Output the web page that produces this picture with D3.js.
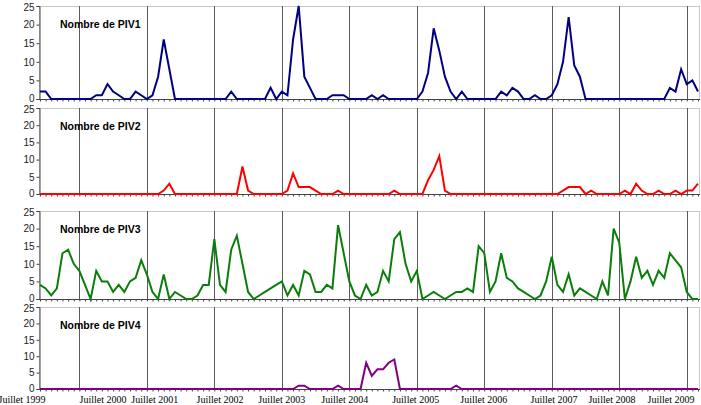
<!DOCTYPE html>
<html><head><meta charset="utf-8">
<script src="https://cdn.jsdelivr.net/npm/d3@7"></script>
<style>body{margin:0;background:#fff}svg{display:block}</style>
</head><body>
<svg id="c" width="701" height="405"></svg>
<script>
const piv1 = [2,2,0,0,0,0,0,0,0,0, 1,1,4,2,1,0,0,2,1,0, 1,6,16,8,0,0,0,0,0,0, 0,0,0,0,2,0,0,0,0,0,
  0,3,0,2,1,16,25,6,3,0, 0,0,1,1,1,0,0,0,0,1, 0,1,0,0,0,0,0,0,2,7, 19,13,6,2,0,2,0,0,0,0,
  0,0,2,1,3,2,0,0,1,0, 0,1,4,10,22,9,6,0,0,0, 0,0,0,0,0,0,0,0,0,0, 0,0,3,2,8,4,5,2];
const piv2 = [0,0,0,0,0,0,0,0,0,0, 0,0,0,0,0,0,0,0,0,0, 0,0,1,3,0,0,0,0,0,0, 0,0,0,0,0,0,8,1,0,0,
  0,0,0,0,1,6,2,2,2,1, 0,0,0,1,0,0,0,0,0,0, 0,0,0,1,0,0,0,0,0,4, 7,11,1,0,0,0,0,0,0,0,
  0,0,0,0,0,0,0,0,0,0, 0,0,0,1,2,2,2,0,1,0, 0,0,0,0,1,0,3,1,0,0, 1,0,0,1,0,1,1,3];
const piv3 = [4,3,1,3,13,14,10,8,4,0, 8,5,5,2,4,2,5,6,11,7, 2,0,7,0,2,1,0,0,1,4, 4,17,4,2,14,18,10,2,0,1,
  2,3,4,5,1,4,1,8,7,2, 2,4,3,21,13,5,1,0,4,1, 2,8,5,17,19,10,5,8,0,1, 2,1,0,1,2,2,3,2,15,13,
  2,5,13,6,5,3,2,1,0,1, 5,12,4,2,7,1,3,2,1,0, 5,1,20,16,0,5,12,6,8,4, 8,6,13,11,9,2,0,0];
const piv4 = [0,0,0,0,0,0,0,0,0,0, 0,0,0,0,0,0,0,0,0,0, 0,0,0,0,0,0,0,0,0,0, 0,0,0,0,0,0,0,0,0,0,
  0,0,0,0,0,0,1,1,0,0, 0,0,0,1,0,0,0,0,8,4, 6,6,8,9,0,0,0,0,0,0, 0,0,0,0,1,0,0,0,0,0,
  0,0,0,0,0,0,0,0,0,0, 0,0,0,0,0,0,0,0,0,0, 0,0,0,0,0,0,0,0,0,0, 0,0,0,0,0,0,0,0];
const seriesNames = ["Nombre de PIV1","Nombre de PIV2","Nombre de PIV3","Nombre de PIV4"];
const yTicks = [0,5,10,15,20,25];
const xLabels = ["Juillet 1999","Juillet 2000","Juillet 2001","Juillet 2002","Juillet 2003","Juillet 2004",
  "Juillet 2005","Juillet 2006","Juillet 2007","Juillet 2008","Juillet 2009"];
const xLabelMonths = [-3.2, 11.2, 20.4, 32, 43, 54.2, 66.8, 78.9, 91.4, 101.7, 112.2];
const yearLineMonths = [7,19,31,43,55,67,79,91,103,115];

const series = [piv1, piv2, piv3, piv4];
const colors = ["#000080","#ff0000","#0a7d0a","#800080"];
const panels = [{top:6,zero:99},{top:108,zero:194},{top:211,zero:299},{top:307,zero:389}];
const left = 39, right = 700;

const svg = d3.select("#c");
const x = d3.scaleLinear().domain([0,117]).range([40,698]);

panels.forEach((p, k) => {
  const y = d3.scaleLinear().domain([0,25]).range([p.zero, p.top]);
  const g = svg.append("g");
  g.append("rect").attr("x", left+0.5).attr("y", p.top+0.5)
    .attr("width", right-left-1).attr("height", p.zero-p.top)
    .attr("fill","none").attr("stroke","#c8c8c8").attr("stroke-width",1);
  g.selectAll("line.yr").data(yearLineMonths).join("line")
    .attr("x1", d => Math.round(x(d))+0.5).attr("x2", d => Math.round(x(d))+0.5)
    .attr("y1", p.top).attr("y2", p.zero)
    .attr("stroke", "#5a5a5a").attr("stroke-width", 1);
  const ya = g.append("g").attr("transform", `translate(${left+0.5},0)`)
    .call(d3.axisLeft(y).tickValues(yTicks).tickSize(3).tickPadding(2));
  ya.select(".domain").attr("stroke","#444");
  ya.selectAll(".tick line").attr("stroke","#444");
  ya.selectAll("text").attr("font-family","Arial, 'Liberation Sans', sans-serif")
    .attr("font-size","10px").attr("fill","#222")
    .attr("dy", d => d === 0 ? "0.22em" : (d === 25 ? "0.42em" : "0.32em"));
  const xa = g.append("g").attr("transform", `translate(0,${p.zero+0.5})`)
    .call(d3.axisBottom(x).tickValues(d3.range(0,118)).tickSize(2).tickFormat(""));
  xa.select(".domain").attr("d", `M${left},0H${right}`).attr("stroke","#444");
  xa.selectAll(".tick line").attr("stroke","#444");
  const line = d3.line().x((d,i) => x(i)).y(d => y(d));
  g.append("path").datum(series[k]).attr("d", line)
    .attr("fill","none").attr("stroke", colors[k]).attr("stroke-width", 2)
    .attr("stroke-linejoin","miter");
  g.append("text").attr("x", 60).attr("y", p.top + 22)
    .attr("font-family","Arial, 'Liberation Sans', sans-serif").attr("font-weight","bold")
    .attr("font-size","10.5px").attr("fill","#000").text(seriesNames[k]);
});

svg.append("g").selectAll("text").data(xLabels).join("text")
  .attr("x", (d,i) => x(xLabelMonths[i])).attr("y", 403)
  .attr("text-anchor","middle")
  .attr("font-family","'Liberation Serif', 'Times New Roman', serif")
  .attr("font-size","10px").attr("fill","#000").text(d => d);
</script>
</body></html>
